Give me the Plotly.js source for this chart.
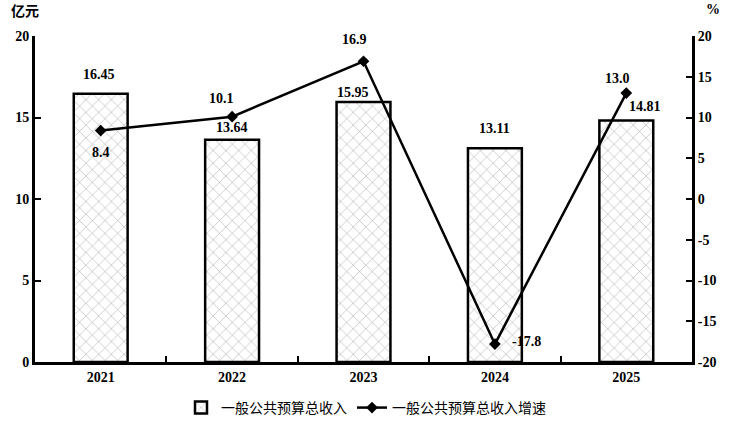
<!DOCTYPE html>
<html>
<head>
<meta charset="utf-8">
<script src="https://cdn.plot.ly/plotly-3.0.1.min.js"></script>
<style>
  html, body { margin: 0; padding: 0; background: #fff; }
  #chart { width: 732px; height: 429px; }
</style>
</head>
<body>
<div id="chart"></div>
<script>
const years = ['2021', '2022', '2023', '2024', '2025']
const revenue = [16.45, 13.64, 15.95, 13.11, 14.81]
const growth = [8.4, 10.1, 16.9, -17.8, 13.0]
const leftTicks = [0, 5, 10, 15, 20]
const rightTicks = [-20, -15, -10, -5, 0, 5, 10, 15, 20]

// label offsets [x, y] in px (kept apart from the data)
const barShift = [[-2, 19], [0, 12], [-11, 10], [0, 20], [19, 14]]
const lineShift = [[0, -22], [-11, 18], [-9, 22], [32, 3], [-9, 15]]

const serif = 'Liberation Serif, Times New Roman, serif'
const cjk = 'Noto Sans CJK SC, sans-serif'
const numFont = { family: serif, size: 14, color: '#000', weight: 'bold' }

const data = [
  {
    type: 'bar',
    name: '一般公共预算总收入',
    x: years,
    y: revenue,
    width: 0.41,
    marker: {
      color: '#fff',
      line: { color: '#000', width: 2.5 },
      pattern: { shape: 'x', fgcolor: '#999', bgcolor: '#fff', size: 9, solidity: 0.1 },
    },
  },
  {
    type: 'scatter',
    mode: 'lines+markers',
    name: '一般公共预算总收入增速',
    x: years,
    y: growth,
    yaxis: 'y2',
    cliponaxis: false,
    line: { color: '#000', width: 2.5 },
    marker: { symbol: 'diamond', size: 9, color: '#000' },
  },
]

const axisBase = {
  showline: true,
  linecolor: '#000',
  linewidth: 3,
  ticks: 'inside',
  ticklen: 6,
  tickwidth: 2,
  tickcolor: '#000',
  showgrid: false,
  zeroline: false,
  tickfont: numFont,
}

// value labels, placed by category index
const barLabels = revenue.map((v, i) => ({
  x: i, y: v, xref: 'x', yref: 'y',
  text: v.toFixed(2),
  showarrow: false,
  xshift: barShift[i][0],
  yshift: barShift[i][1],
  font: numFont,
}))

const lineLabels = growth.map((v, i) => ({
  x: i, y: v, xref: 'x', yref: 'y2',
  text: v.toFixed(1),
  showarrow: false,
  xshift: lineShift[i][0],
  yshift: lineShift[i][1],
  font: numFont,
}))

const layout = {
  width: 732,
  height: 429,
  margin: { l: 35, r: 40, t: 36, b: 67 },
  paper_bgcolor: '#fff',
  plot_bgcolor: '#fff',
  showlegend: true,
  legend: {
    orientation: 'h',
    x: 0.5,
    xref: 'container',
    xanchor: 'center',
    y: 0.049,
    yref: 'container',
    yanchor: 'middle',
    font: { family: cjk, size: 14, color: '#000' },
    tracegroupgap: 0,
  },
  xaxis: { ...axisBase, type: 'category', tickson: 'boundaries', range: [-0.5, years.length - 0.5] },
  yaxis: {
    ...axisBase,
    range: [0, 20],
    tickvals: leftTicks,
    ticktext: leftTicks.map(String),
  },
  yaxis2: {
    ...axisBase,
    overlaying: 'y',
    side: 'right',
    range: [-20, 20],
    tickvals: rightTicks,
    ticktext: rightTicks.map(String),
  },
  annotations: [
    ...barLabels,
    ...lineLabels,
    { text: '亿元', xref: 'paper', yref: 'paper', x: -0.04, y: 1.08, xanchor: 'left', yanchor: 'middle', showarrow: false, font: { family: cjk, size: 14, color: '#000', weight: 'bold' } },
    { text: '%', xref: 'paper', yref: 'paper', x: 1.018, y: 1.08, xanchor: 'left', yanchor: 'middle', showarrow: false, font: numFont },
  ],
}

Plotly.newPlot('chart', data, layout, { displayModeBar: false, staticPlot: true })
</script>
</body>
</html>
